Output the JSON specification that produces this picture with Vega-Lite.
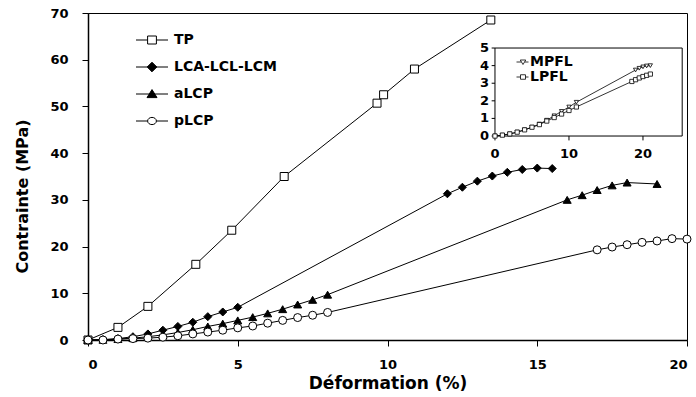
{
  "$schema": "https://vega.github.io/schema/vega-lite/v6.json",
  "width": 599,
  "height": 327,
  "autosize": {"type": "none"},
  "padding": {"left": 88, "top": 13, "right": 9, "bottom": 57},
  "background": "white",
  "config": {
    "font": "DejaVu Sans",
    "view": {"stroke": "black", "strokeWidth": 1},
    "axis": {
      "labelFont": "DejaVu Sans", "labelFontWeight": "bold", "labelFontSize": 13, "labelColor": "black",
      "titleFont": "DejaVu Sans", "titleFontWeight": "bold", "titleColor": "black",
      "domainColor": "black", "tickColor": "black", "grid": false, "domainWidth": 1.5, "tickWidth": 1
    },
    "text": {"font": "DejaVu Sans", "fontWeight": "bold", "color": "black"}
  },
  "datasets": {
    "main": [
      {"s": "TP", "x": 0, "y": 0}, {"s": "TP", "x": 1, "y": 2.7}, {"s": "TP", "x": 2, "y": 7.2},
      {"s": "TP", "x": 3.6, "y": 16.2}, {"s": "TP", "x": 4.8, "y": 23.5}, {"s": "TP", "x": 6.55, "y": 35},
      {"s": "TP", "x": 9.65, "y": 50.7}, {"s": "TP", "x": 9.87, "y": 52.5}, {"s": "TP", "x": 10.9, "y": 58},
      {"s": "TP", "x": 13.45, "y": 68.5},
      {"s": "LCA-LCL-LCM", "x": 0, "y": 0}, {"s": "LCA-LCL-LCM", "x": 0.5, "y": 0.1}, {"s": "LCA-LCL-LCM", "x": 1, "y": 0.3},
      {"s": "LCA-LCL-LCM", "x": 1.5, "y": 0.7}, {"s": "LCA-LCL-LCM", "x": 2, "y": 1.3}, {"s": "LCA-LCL-LCM", "x": 2.5, "y": 2.1},
      {"s": "LCA-LCL-LCM", "x": 3, "y": 2.9}, {"s": "LCA-LCL-LCM", "x": 3.5, "y": 3.8}, {"s": "LCA-LCL-LCM", "x": 4, "y": 5.0},
      {"s": "LCA-LCL-LCM", "x": 4.5, "y": 6.0}, {"s": "LCA-LCL-LCM", "x": 5, "y": 7.0}, {"s": "LCA-LCL-LCM", "x": 12, "y": 31.3},
      {"s": "LCA-LCL-LCM", "x": 12.5, "y": 32.7}, {"s": "LCA-LCL-LCM", "x": 13, "y": 34}, {"s": "LCA-LCL-LCM", "x": 13.5, "y": 35.1},
      {"s": "LCA-LCL-LCM", "x": 14, "y": 35.9}, {"s": "LCA-LCL-LCM", "x": 14.5, "y": 36.5}, {"s": "LCA-LCL-LCM", "x": 15, "y": 36.8},
      {"s": "LCA-LCL-LCM", "x": 15.5, "y": 36.7},
      {"s": "aLCP", "x": 0, "y": 0}, {"s": "aLCP", "x": 0.5, "y": 0.05}, {"s": "aLCP", "x": 1, "y": 0.2},
      {"s": "aLCP", "x": 1.5, "y": 0.4}, {"s": "aLCP", "x": 2, "y": 0.7}, {"s": "aLCP", "x": 2.5, "y": 1.1},
      {"s": "aLCP", "x": 3, "y": 1.6}, {"s": "aLCP", "x": 3.5, "y": 2.2}, {"s": "aLCP", "x": 4, "y": 2.9},
      {"s": "aLCP", "x": 4.5, "y": 3.5}, {"s": "aLCP", "x": 5, "y": 4.2}, {"s": "aLCP", "x": 5.5, "y": 4.9},
      {"s": "aLCP", "x": 6, "y": 5.7}, {"s": "aLCP", "x": 6.5, "y": 6.6}, {"s": "aLCP", "x": 7, "y": 7.6},
      {"s": "aLCP", "x": 7.5, "y": 8.6}, {"s": "aLCP", "x": 8, "y": 9.7}, {"s": "aLCP", "x": 16, "y": 30},
      {"s": "aLCP", "x": 16.5, "y": 31}, {"s": "aLCP", "x": 17, "y": 32.1}, {"s": "aLCP", "x": 17.5, "y": 33.1},
      {"s": "aLCP", "x": 18, "y": 33.7}, {"s": "aLCP", "x": 19, "y": 33.4},
      {"s": "pLCP", "x": 0, "y": 0}, {"s": "pLCP", "x": 0.5, "y": 0}, {"s": "pLCP", "x": 1, "y": 0.2},
      {"s": "pLCP", "x": 1.5, "y": 0.3}, {"s": "pLCP", "x": 2, "y": 0.4}, {"s": "pLCP", "x": 2.5, "y": 0.6},
      {"s": "pLCP", "x": 3, "y": 0.9}, {"s": "pLCP", "x": 3.5, "y": 1.3}, {"s": "pLCP", "x": 4, "y": 1.7},
      {"s": "pLCP", "x": 4.5, "y": 2.1}, {"s": "pLCP", "x": 5, "y": 2.6}, {"s": "pLCP", "x": 5.5, "y": 3.0},
      {"s": "pLCP", "x": 6, "y": 3.6}, {"s": "pLCP", "x": 6.5, "y": 4.2}, {"s": "pLCP", "x": 7, "y": 4.8},
      {"s": "pLCP", "x": 7.5, "y": 5.3}, {"s": "pLCP", "x": 8, "y": 5.9}, {"s": "pLCP", "x": 17, "y": 19.3},
      {"s": "pLCP", "x": 17.5, "y": 19.9}, {"s": "pLCP", "x": 18, "y": 20.4}, {"s": "pLCP", "x": 18.5, "y": 20.9},
      {"s": "pLCP", "x": 19, "y": 21.2}, {"s": "pLCP", "x": 19.5, "y": 21.7}, {"s": "pLCP", "x": 20, "y": 21.6}
    ],
    "inset": [
      {"s": "MPFL", "x": 0, "y": 0}, {"s": "MPFL", "x": 1, "y": 0.05}, {"s": "MPFL", "x": 2, "y": 0.12},
      {"s": "MPFL", "x": 3, "y": 0.22}, {"s": "MPFL", "x": 4, "y": 0.35}, {"s": "MPFL", "x": 5, "y": 0.5},
      {"s": "MPFL", "x": 6, "y": 0.68}, {"s": "MPFL", "x": 7, "y": 0.9}, {"s": "MPFL", "x": 8, "y": 1.15},
      {"s": "MPFL", "x": 9, "y": 1.4}, {"s": "MPFL", "x": 10, "y": 1.65}, {"s": "MPFL", "x": 11, "y": 1.92},
      {"s": "MPFL", "x": 19, "y": 3.75}, {"s": "MPFL", "x": 19.5, "y": 3.85}, {"s": "MPFL", "x": 20, "y": 3.93},
      {"s": "MPFL", "x": 20.5, "y": 3.98}, {"s": "MPFL", "x": 21, "y": 4.0},
      {"s": "LPFL", "x": 0, "y": 0}, {"s": "LPFL", "x": 1, "y": 0.05}, {"s": "LPFL", "x": 2, "y": 0.12},
      {"s": "LPFL", "x": 3, "y": 0.22}, {"s": "LPFL", "x": 4, "y": 0.35}, {"s": "LPFL", "x": 5, "y": 0.5},
      {"s": "LPFL", "x": 6, "y": 0.65}, {"s": "LPFL", "x": 7, "y": 0.85}, {"s": "LPFL", "x": 8, "y": 1.05},
      {"s": "LPFL", "x": 9, "y": 1.25}, {"s": "LPFL", "x": 10, "y": 1.45}, {"s": "LPFL", "x": 11, "y": 1.65},
      {"s": "LPFL", "x": 18.5, "y": 3.1}, {"s": "LPFL", "x": 19, "y": 3.2}, {"s": "LPFL", "x": 19.5, "y": 3.3},
      {"s": "LPFL", "x": 20, "y": 3.38}, {"s": "LPFL", "x": 20.5, "y": 3.45}, {"s": "LPFL", "x": 21, "y": 3.52}
    ]
  },
  "layer": [
    {
      "data": {"name": "main"},
      "layer": [
        {
          "mark": {"type": "line", "color": "black", "strokeWidth": 1},
          "encoding": {
            "x": {
              "field": "x", "type": "quantitative",
              "scale": {"domain": [0, 20], "nice": false, "zero": false},
              "axis": {
                "values": [0, 5, 10, 15, 20], "tickSize": 6, "labelPadding": 12,
                "title": "Déformation (%)", "titleFontSize": 17, "titleY": 43, "titleBaseline": "middle"
              }
            },
            "y": {
              "field": "y", "type": "quantitative",
              "scale": {"domain": [0, 70], "nice": false},
              "axis": {
                "values": [0, 10, 20, 30, 40, 50, 60, 70], "tickSize": 6, "labelPadding": 14,
                "title": "Contrainte (MPa)", "titleFontSize": 16, "titleX": -66, "titleY": 183,
                "titleBaseline": "middle", "titleAngle": -90
              }
            },
            "detail": {"field": "s"}
          }
        },
        {
          "mark": {"type": "point", "filled": true, "stroke": "black", "strokeWidth": 1, "size": 64, "opacity": 1},
          "encoding": {
            "x": {"field": "x", "type": "quantitative"},
            "y": {"field": "y", "type": "quantitative"},
            "shape": {
              "field": "s", "type": "nominal",
              "scale": {"domain": ["TP", "LCA-LCL-LCM", "aLCP", "pLCP"], "range": ["square", "diamond", "triangle-up", "circle"]},
              "legend": null
            },
            "fill": {
              "field": "s", "type": "nominal",
              "scale": {"domain": ["TP", "LCA-LCL-LCM", "aLCP", "pLCP"], "range": ["white", "black", "black", "white"]},
              "legend": null
            }
          }
        },
        {
          "mark": {"type": "point", "filled": true, "strokeWidth": 1, "size": 64, "opacity": 1, "clip": true},
          "encoding": {
            "x": {"datum": 0, "type": "quantitative"},
            "y": {"datum": 100, "type": "quantitative"},
            "shape": {
              "field": "s", "type": "nominal",
              "scale": {
                "domain": ["TP", "LCA-LCL-LCM", "aLCP", "pLCP"],
                "range": [
                  "M-4,0H-1.1M1.1,0H4M-1.1,-1H1.1V1H-1.1Z",
                  "M-4,0H4M0,-1.2L1.2,0L0,1.2L-1.2,0Z",
                  "M-4,0H4M0,-1.1L1.25,0.9L-1.25,0.9Z",
                  "M-4,0H-1.1M1.1,0H4M1.1,0A1.1,0.9,0,1,1,-1.1,0A1.1,0.9,0,1,1,1.1,0Z"
                ]
              },
              "legend": {
                "orient": "none", "legendX": 57, "legendY": 20, "title": null, "padding": 0,
                "labelFont": "DejaVu Sans", "labelFontSize": 14, "labelFontWeight": "bold", "labelColor": "black",
                "symbolSize": 64, "symbolStrokeWidth": 1, "rowPadding": 13, "labelOffset": 15
              }
            },
            "fill": {
              "field": "s", "type": "nominal",
              "scale": {"domain": ["TP", "LCA-LCL-LCM", "aLCP", "pLCP"], "range": ["white", "black", "black", "white"]},
              "legend": {
                "orient": "none", "legendX": 57, "legendY": 20, "title": null, "padding": 0,
                "labelFont": "DejaVu Sans", "labelFontSize": 14, "labelFontWeight": "bold", "labelColor": "black",
                "symbolSize": 64, "symbolStrokeWidth": 1, "rowPadding": 13, "labelOffset": 15
              }
            },
            "stroke": {
              "field": "s", "type": "nominal",
              "scale": {"domain": ["TP", "LCA-LCL-LCM", "aLCP", "pLCP"], "range": ["black", "black", "black", "black"]},
              "legend": {
                "orient": "none", "legendX": 57, "legendY": 20, "title": null, "padding": 0,
                "labelFont": "DejaVu Sans", "labelFontSize": 14, "labelFontWeight": "bold", "labelColor": "black",
                "symbolSize": 64, "symbolStrokeWidth": 1, "rowPadding": 13, "labelOffset": 15
              }
            }
          }
        }
      ],
      "resolve": {"scale": {"shape": "independent", "fill": "independent", "stroke": "independent"}}
    },
    {
      "layer": [
        {
          "data": {"values": [{"box": "inset"}]},
          "mark": {"type": "rect", "fill": "white", "stroke": "black", "strokeWidth": 1},
          "encoding": {
            "x": {"datum": 0, "type": "quantitative", "scale": {"domain": [-55, 25.95], "nice": false, "zero": false}, "axis": null},
            "x2": {"datum": 25.3},
            "y": {"datum": 0, "type": "quantitative", "scale": {"domain": [-11.59, 6.99], "nice": false, "zero": false}, "axis": null},
            "y2": {"datum": 5}
          }
        },
        {
          "data": {"values": [{"v": 0}, {"v": 1}, {"v": 2}, {"v": 3}, {"v": 4}, {"v": 5}]},
          "mark": {"type": "text", "align": "right", "baseline": "middle", "dx": -6, "fontSize": 13, "fontWeight": "bold"},
          "encoding": {
            "x": {"datum": 0, "type": "quantitative"},
            "y": {"field": "v", "type": "quantitative"},
            "text": {"field": "v", "type": "quantitative"}
          }
        },
        {
          "data": {"values": [{"v": 0}, {"v": 1}, {"v": 2}, {"v": 3}, {"v": 4}, {"v": 5}]},
          "mark": {"type": "rule", "color": "black", "strokeWidth": 1},
          "encoding": {
            "x": {"datum": -0.45, "type": "quantitative"},
            "x2": {"datum": 0},
            "y": {"field": "v", "type": "quantitative"}
          }
        },
        {
          "data": {"values": [{"v": 0}, {"v": 10}, {"v": 20}]},
          "mark": {"type": "text", "align": "center", "baseline": "middle", "dy": 18, "fontSize": 13, "fontWeight": "bold"},
          "encoding": {
            "x": {"field": "v", "type": "quantitative"},
            "y": {"datum": 0, "type": "quantitative"},
            "text": {"field": "v", "type": "quantitative"}
          }
        },
        {
          "data": {"values": [{"v": 0}, {"v": 10}, {"v": 20}]},
          "mark": {"type": "rule", "color": "black", "strokeWidth": 1},
          "encoding": {
            "x": {"field": "v", "type": "quantitative"},
            "y": {"datum": 0, "type": "quantitative"},
            "y2": {"datum": -0.25}
          }
        },
        {
          "data": {"name": "inset"},
          "mark": {"type": "line", "color": "black", "strokeWidth": 0.8},
          "encoding": {
            "x": {"field": "x", "type": "quantitative"},
            "y": {"field": "y", "type": "quantitative"},
            "detail": {"field": "s"}
          }
        },
        {
          "data": {"name": "inset"},
          "mark": {"type": "point", "filled": true, "fill": "white", "stroke": "black", "strokeWidth": 0.8, "size": 18, "opacity": 1},
          "encoding": {
            "x": {"field": "x", "type": "quantitative"},
            "y": {"field": "y", "type": "quantitative"},
            "shape": {
              "field": "s", "type": "nominal",
              "scale": {"domain": ["MPFL", "LPFL"], "range": ["triangle-down", "square"]},
              "legend": null
            }
          }
        },
        {
          "data": {"name": "inset"},
          "mark": {"type": "point", "filled": true, "strokeWidth": 0.8, "size": 25, "opacity": 1, "clip": true},
          "encoding": {
            "x": {"datum": 0, "type": "quantitative"},
            "y": {"datum": -100, "type": "quantitative"},
            "shape": {
              "field": "s", "type": "nominal",
              "scale": {
                "domain": ["MPFL", "LPFL"],
                "range": ["M-2.6,0H-0.7M0.7,0H2.2M-1.1,-0.8H1.1L0,1Z", "M-2.6,0H-1M1,0H2.2M-1,-0.9H1V0.9H-1Z"]
              },
              "legend": {
                "orient": "none", "legendX": 428, "legendY": 42, "title": null, "padding": 0,
                "labelFont": "DejaVu Sans", "labelFontSize": 14, "labelFontWeight": "bold", "labelColor": "black",
                "symbolSize": 25, "symbolStrokeWidth": 0.8, "rowPadding": 1, "labelOffset": 0
              }
            },
            "fill": {
              "field": "s", "type": "nominal",
              "scale": {"domain": ["MPFL", "LPFL"], "range": ["white", "white"]},
              "legend": {
                "orient": "none", "legendX": 428, "legendY": 42, "title": null, "padding": 0,
                "labelFont": "DejaVu Sans", "labelFontSize": 14, "labelFontWeight": "bold", "labelColor": "black",
                "symbolSize": 25, "symbolStrokeWidth": 0.8, "rowPadding": 1, "labelOffset": 0
              }
            },
            "stroke": {
              "field": "s", "type": "nominal",
              "scale": {"domain": ["MPFL", "LPFL"], "range": ["black", "black"]},
              "legend": {
                "orient": "none", "legendX": 428, "legendY": 42, "title": null, "padding": 0,
                "labelFont": "DejaVu Sans", "labelFontSize": 14, "labelFontWeight": "bold", "labelColor": "black",
                "symbolSize": 25, "symbolStrokeWidth": 0.8, "rowPadding": 1, "labelOffset": 0
              }
            }
          }
        }
      ],
      "resolve": {"scale": {"shape": "independent", "fill": "independent", "stroke": "independent"}}
    }
  ],
  "resolve": {"scale": {"x": "independent", "y": "independent", "shape": "independent", "fill": "independent", "stroke": "independent"}}
}
